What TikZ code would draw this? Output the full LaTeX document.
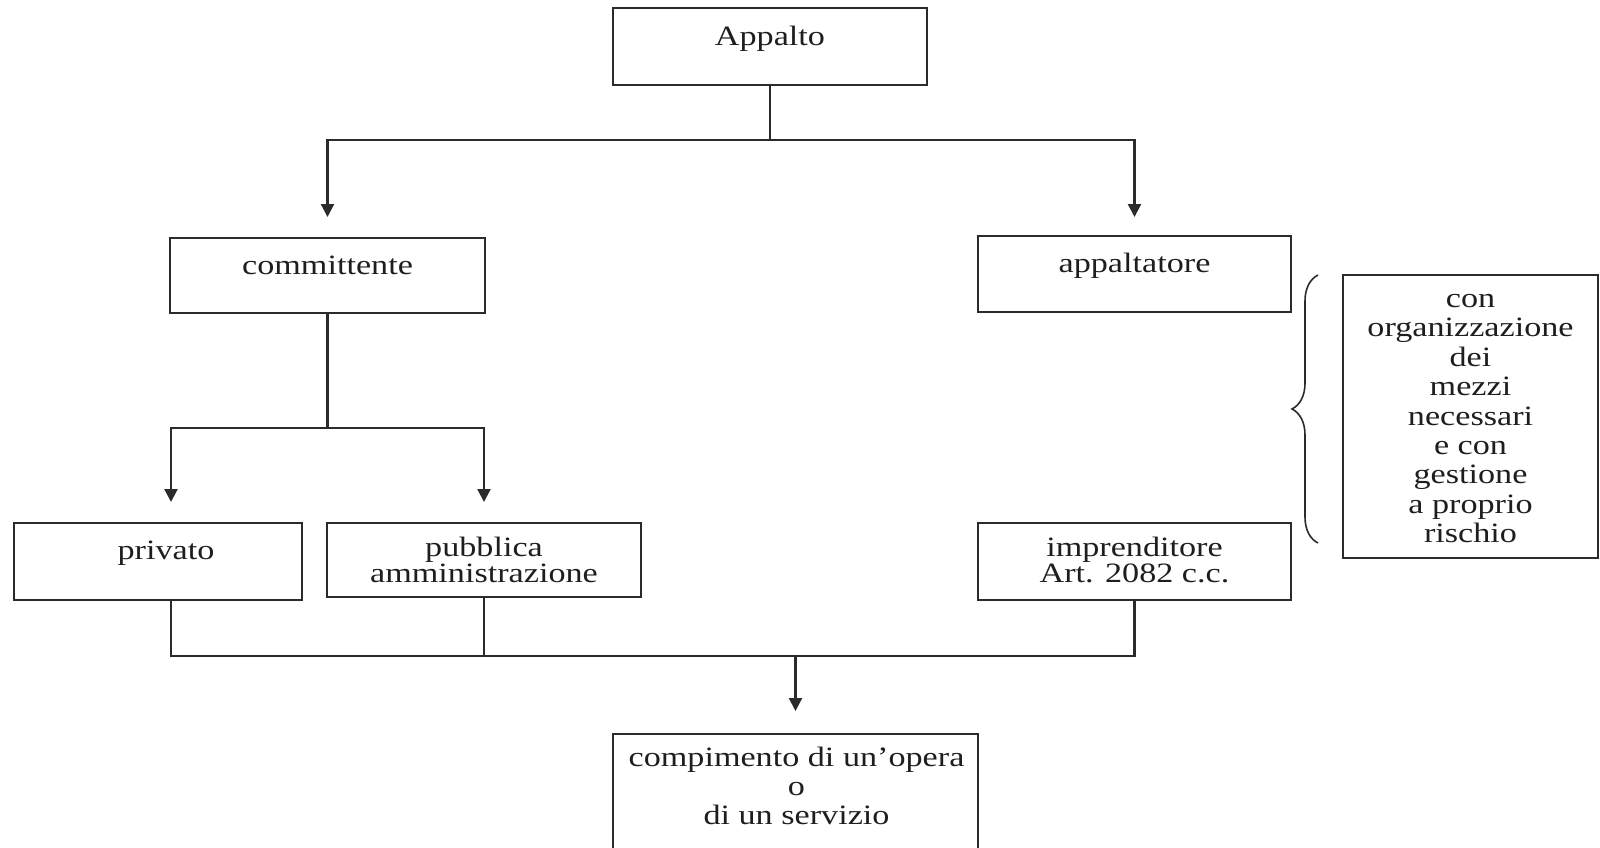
\documentclass[tikz,border=0pt]{standalone}
\usepackage{fontspec}
\setmainfont[FakeStretch=1.22]{Liberation Serif}
\usetikzlibrary{arrows.meta,decorations.pathreplacing}
\definecolor{ink}{HTML}{2B2B2B}
\definecolor{txtcol}{HTML}{1E1E1E}

\tikzset{
  box/.style={draw=ink, line width=2.3pt, inner sep=0pt, outer sep=0pt,
    anchor=north west},
  txt/.style={anchor=north, align=center, inner sep=0pt, text=txtcol,
    font=\fontsize{28}{29}\selectfont, execute at begin node=\strut},
  txttight/.style={txt, font=\fontsize{28}{26}\selectfont},
  txtloose/.style={txt, font=\fontsize{28}{29.4}\selectfont},
  conn/.style={draw=ink, line width=2.2pt, line cap=rect},
  arr/.style={draw=ink, line width=2.2pt,
    -{Triangle[length=13pt,width=13pt]}},
  brc/.style={draw=ink, line width=1.6pt, decorate,
    decoration={brace, amplitude=26pt}}
}

\begin{document}
\begin{tikzpicture}[x=1pt, y=-1pt]
\useasboundingbox (0,0) rectangle (1600,847);

% boxes
\node[box, minimum width=314pt, minimum height=77pt] (app) at (613,8) {};
\node[box, minimum width=315pt, minimum height=75pt] (com) at (170,238) {};
\node[box, minimum width=313pt, minimum height=76pt] (apt) at (978,236) {};
\node[box, minimum width=288pt, minimum height=77pt] (priv) at (14,523) {};
\node[box, minimum width=314pt, minimum height=74pt] (pub) at (327,523) {};
\node[box, minimum width=313pt, minimum height=77pt] (imp) at (978,523) {};
\node[box, minimum width=255pt, minimum height=283pt] (note) at (1343,275) {};
\node[box, minimum width=365pt, minimum height=140pt] (out) at (613,734) {};

% texts
\node[txt] (appT) at ([yshift=-16.7pt]app.north) {Appalto};
\node[txt] (comT) at ([yshift=-15.5pt]com.north) {committente};
\node[txt] (aptT) at ([yshift=-15.7pt]apt.north) {appaltatore};
\node[txt] (privT) at ([xshift=8pt,yshift=-15.7pt]priv.north) {privato};
\node[txttight] (pubT) at ([yshift=-13.8pt]pub.north) {pubblica\\amministrazione};
\node[txttight] (impT) at ([yshift=-13.8pt]imp.north) {imprenditore\\Art. 2082 c.c.};
\node[txtloose] (noteT) at ([yshift=-19pt]note.north) {con\\organizzazione\\dei\\mezzi\\necessari\\e con\\gestione\\a proprio\\rischio};
\node[txt] (outT) at ([xshift=1pt,yshift=-12.5pt]out.north) {compimento di un’opera\\o\\di un servizio};

% bus levels
\coordinate (busA) at (0,140);
\coordinate (busB) at (0,428);
\coordinate (busC) at (0,656);
\coordinate (privIn) at ([xshift=13pt]priv.north);
\coordinate (privOut) at ([xshift=13pt]priv.south);

% Appalto -> committente / appaltatore
\draw[conn] (app.south) -- (app.south |- busA);
\draw[conn] (com.north |- busA) -- (apt.north |- busA);
\draw[arr] (com.north |- busA) -- ([yshift=21pt]com.north);
\draw[arr] (apt.north |- busA) -- ([yshift=19pt]apt.north);

% committente -> privato / pubblica amministrazione
\draw[conn] (com.south) -- (com.south |- busB);
\draw[conn] (privIn |- busB) -- (pub.north |- busB);
\draw[arr] (privIn |- busB) -- ([yshift=21pt]privIn);
\draw[arr] (pub.north |- busB) -- ([yshift=21pt]pub.north);

% all parties -> compimento
\draw[conn] (privOut) -- (privOut |- busC);
\draw[conn] (pub.south) -- (pub.south |- busC);
\draw[conn] (imp.south) -- (imp.south |- busC);
\draw[conn] (privOut |- busC) -- (imp.south |- busC);
\draw[arr] (out.north |- busC) -- ([yshift=23pt]out.north);

% brace between the contractor column and the note
\draw[brc] ([xshift=-25pt,yshift=15pt]note.south west) -- ([xshift=-25pt]note.north west);
\end{tikzpicture}
\end{document}
